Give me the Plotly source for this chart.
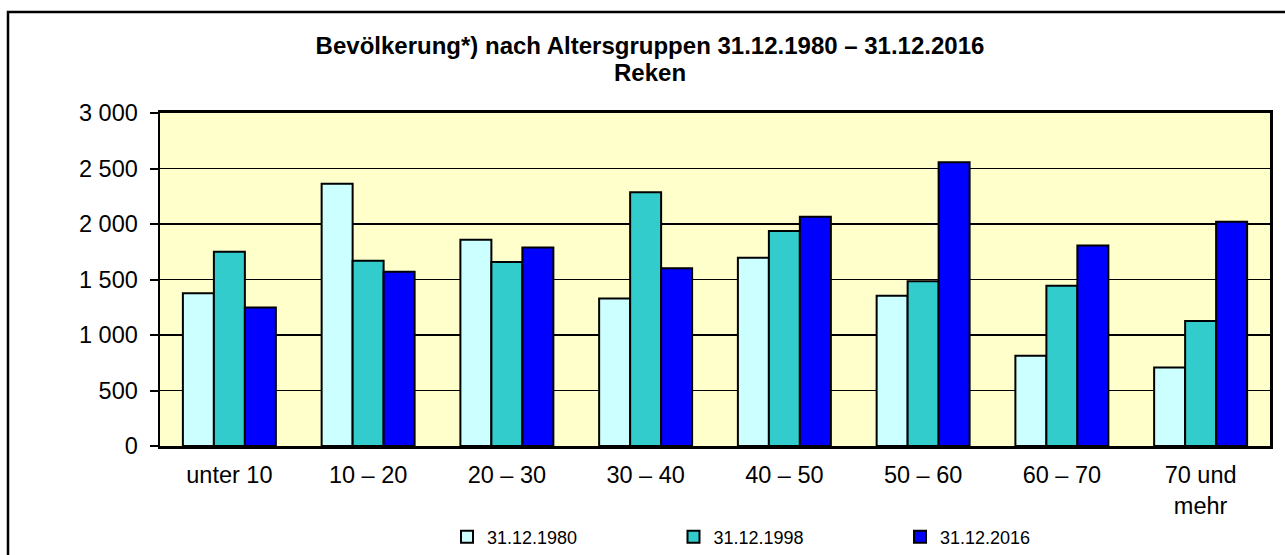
import plotly.graph_objects as go

categories = ["unter 10", "10 – 20", "20 – 30", "30 – 40", "40 – 50", "50 – 60", "60 – 70", "70 und<br>mehr"]
series_names = ["31.12.1980", "31.12.1998", "31.12.2016"]
v1980 = [1377, 2363, 1858, 1329, 1696, 1353, 812, 707]
v1998 = [1750, 1669, 1657, 2285, 1936, 1485, 1443, 1127]
v2016 = [1248, 1569, 1789, 1602, 2065, 2556, 1807, 2020]
y_tickvals = [0, 500, 1000, 1500, 2000, 2500, 3000]
y_ticktext = ["0", "500", "1 000", "1 500", "2 000", "2 500", "3 000"]
colors = ["#CCFFFF", "#33CCCC", "#0000FF"]
title_line1 = "Bevölkerung*) nach Altersgruppen 31.12.1980 – 31.12.2016"
title_line2 = "Reken"

FONT = "Liberation Sans, Arial, sans-serif"

fig = go.Figure()
for name, vals, col in zip(series_names, [v1980, v1998, v2016], colors):
    fig.add_trace(go.Bar(
        x=categories, y=vals, name=name,
        marker=dict(color=col, line=dict(color="black", width=2)),
    ))

fig.update_layout(
    width=1285, height=555,
    margin=dict(l=160, r=15, t=113, b=109, autoexpand=False),
    paper_bgcolor="white",
    plot_bgcolor="#FFFFCC",
    barmode="group", bargap=0.33, bargroupgap=0,
    font=dict(family=FONT, color="black", size=23.5),
    title=dict(
        text="<b>" + title_line1 + "</b>",
        x=650 / 1285, xanchor="center", xref="container",
        y=1 - 45.5 / 555, yanchor="middle", yref="container",
        font=dict(family=FONT, size=24, color="black"),
        automargin=False,
    ),
    legend=dict(
        orientation="h", x=(447 - 160) / 1110, xanchor="left", xref="paper",
        y=(555 - 537) / 555, yanchor="middle", yref="container",
        font=dict(family=FONT, size=18, color="black"),
        entrywidth=181.5, entrywidthmode="pixels",
        bgcolor="rgba(0,0,0,0)", traceorder="normal",
    ),
    showlegend=True,
    hovermode=False,
)

fig.add_annotation(
    text="<b>" + title_line2 + "</b>", xref="paper", yref="paper",
    x=(650 - 160) / 1110, y=(446 - 72) / 333, xanchor="center", yanchor="middle",
    showarrow=False, font=dict(family=FONT, size=24, color="black"),
)

fig.update_xaxes(
    showline=True, linecolor="black", linewidth=3, mirror=True,
    ticks="", ticklabelstandoff=6, automargin=False,
    tickfont=dict(family=FONT, size=23.5, color="black"),
    showgrid=False,
)
fig.update_yaxes(
    range=[0, 3000], tickvals=y_tickvals, ticktext=y_ticktext,
    showline=True, linecolor="black", linewidth=2.5, mirror=True,
    ticks="outside", ticklen=8, tickwidth=2, tickcolor="black",
    ticklabelstandoff=7, automargin=False,
    showgrid=True, gridcolor="black", gridwidth=1.5,
    zeroline=False,
    tickfont=dict(family=FONT, size=23.5, color="black"),
)

# outer chart frame
fig.add_shape(type="rect", xref="paper", yref="paper",
              x0=(8 - 160) / 1110, x1=(1300 - 160) / 1110,
              y0=(446 - 570) / 333, y1=(446 - 12) / 333,
              line=dict(color="black", width=2.5), fillcolor="rgba(0,0,0,0)",
              layer="below")

fig.write_html("out.html", config={"displayModeBar": False, "staticPlot": True},
               post_script="document.body.style.margin='0';document.body.style.overflow='hidden';")
